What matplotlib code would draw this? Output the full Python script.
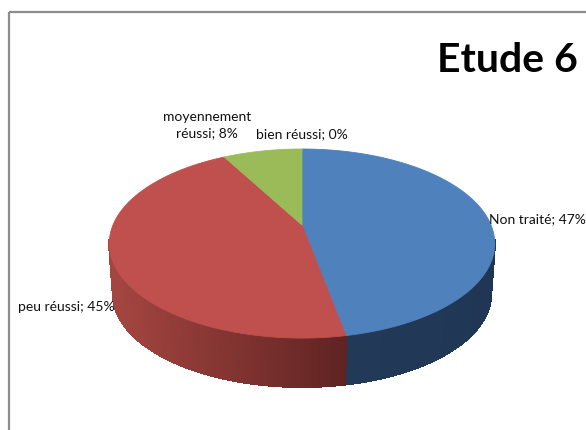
import numpy as np
import matplotlib
matplotlib.use("Agg")
import matplotlib.pyplot as plt
from matplotlib.collections import PolyCollection
from matplotlib.colors import to_rgb
from matplotlib.patches import Polygon, Rectangle

categories = ["Non traité", "peu réussi", "moyennement\nréussi", "bien réussi"]
percentages = [47, 45, 8, 0]
top_colors = ["#4f81bd", "#c0504d", "#9bbb59", "#8064a2"]
wall_far = ["#1f3553", "#a34540", "#6d8a3a", "#5a4675"]
wall_near = ["#223a58", "#5f2322", "#55702c", "#453560"]

W, H = 586, 430
CX, CY = 302, 225
RX, RY = 189, 90.9
TILT = 0.196
DEPTH, BASE_SCALE = 51, 0.98


def project(theta):
    """Perspective view of the unit circle; theta runs clockwise from the back."""
    u, v = np.sin(theta), np.cos(theta)
    w = 1 + TILT * v
    return CX + RX * u / w, CY - RY * v / w


def project_base(theta):
    x, y = project(theta)
    return CX + BASE_SCALE * (x - CX), CY + DEPTH + BASE_SCALE * (y - CY)


fig = plt.figure(figsize=(W / 100, H / 100), dpi=100)
ax = fig.add_axes([0, 0, 1, 1])
ax.set_xlim(0, W)
ax.set_ylim(H, 0)
ax.axis("off")

# chart frame, running off the right and bottom edges
ax.add_patch(Rectangle((9, 12), W + 20, H + 20, fill=False, ec="#8c8c8c", lw=1.6))

edges = 2 * np.pi * np.cumsum([0] + percentages) / sum(percentages)

# side wall, built from narrow shaded strips on the visible front half only
for i in range(len(percentages)):
    a0, a1 = edges[i], edges[i + 1]
    if a1 <= a0:
        continue
    n = max(int((a1 - a0) * 120), 2)
    t = np.linspace(a0, a1, n + 1)
    xt, yt = project(t)
    xb, yb = project_base(t)
    quads, cols = [], []
    for j in range(n):
        mid = 0.5 * (t[j] + t[j + 1])
        if np.cos(mid) > -TILT + 0.03:
            continue
        quads.append([(xt[j], yt[j]), (xt[j + 1], yt[j + 1]),
                      (xb[j + 1], yb[j + 1]), (xb[j], yb[j])])
        # darkest at the front of the pie, lightest towards the sides
        f = np.clip(abs(np.sin(mid - edges[1])) * 1.05, 0, 1)
        cols.append(tuple((1 - f) * np.array(to_rgb(wall_near[i]))
                          + f * np.array(to_rgb(wall_far[i]))))
    if quads:
        ax.add_collection(PolyCollection(quads, facecolors=cols, edgecolors=cols,
                                         lw=1.0, antialiased=False, zorder=2))

# top face
for i in range(len(percentages)):
    a0, a1 = edges[i], edges[i + 1]
    if a1 <= a0:
        continue
    t = np.linspace(a0, a1, max(int((a1 - a0) * 120), 2))
    x, y = project(t)
    pts = np.column_stack([np.r_[CX, x], np.r_[CY, y]])
    ax.add_patch(Polygon(pts, closed=True, fc=top_colors[i], ec=top_colors[i], lw=0.6, zorder=3))

font = "Lato"
label_size = 10
ax.text(489, 219, f"{categories[0]}; {percentages[0]}%", ha="left", va="center",
        fontsize=label_size, family=font, color="#111111", zorder=5)
ax.text(18, 307, f"{categories[1]}; {percentages[1]}%", ha="left", va="center",
        fontsize=label_size, family=font, color="#111111", zorder=5)
ax.text(207, 125, f"{categories[2]}; {percentages[2]}%", ha="center", va="center",
        fontsize=label_size, family=font, color="#111111", linespacing=1.35,
        multialignment="center", zorder=5)
ax.text(302, 134, f"{categories[3]}; {percentages[3]}%", ha="center", va="center",
        fontsize=label_size, family=font, color="#111111", zorder=5)

ax.text(507, 61, "Etude 6", ha="center", va="center", fontsize=29.5, family=font,
        weight="bold", color="#000000", zorder=5)

fig.savefig("out.png", dpi=100)
